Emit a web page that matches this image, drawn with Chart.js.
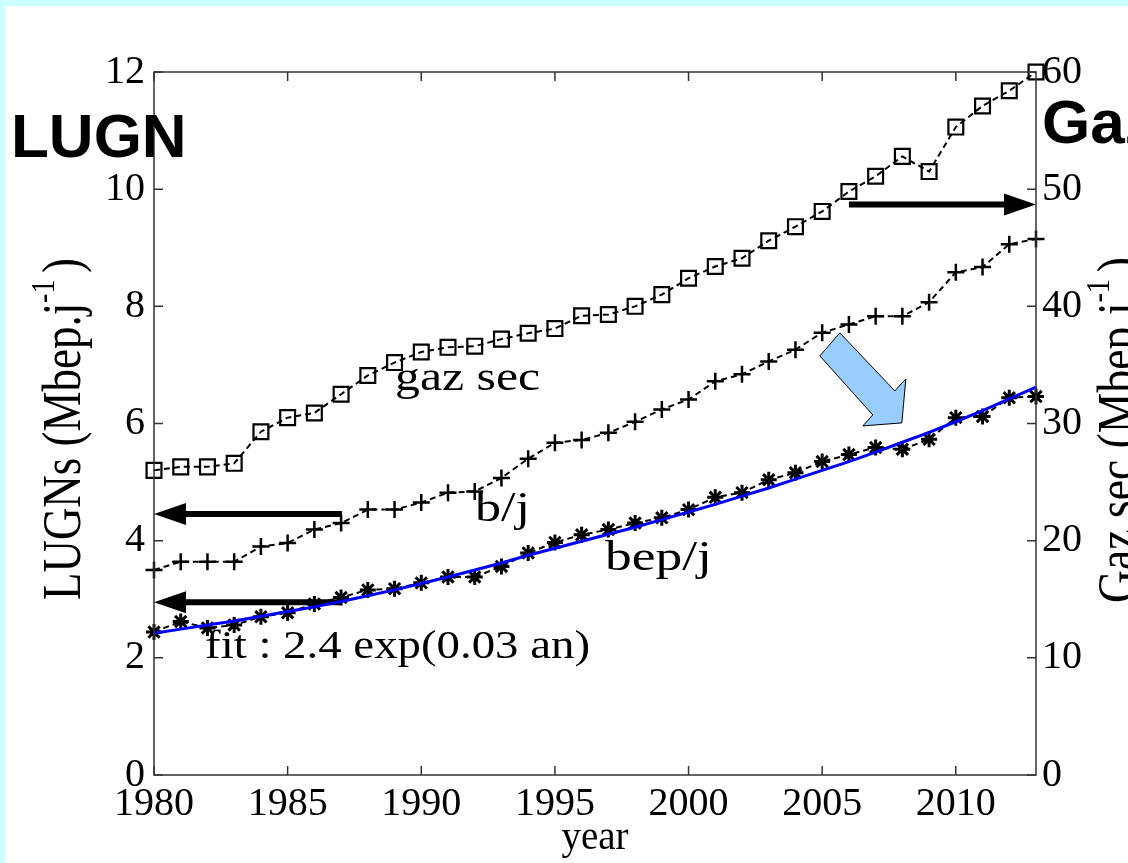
<!DOCTYPE html>
<html><head><meta charset="utf-8">
<script src="https://cdn.jsdelivr.net/npm/chart.js@4.4.0/dist/chart.umd.min.js"></script>
<style>html,body{margin:0;padding:0;background:#ffffff;overflow:hidden}canvas{display:block}</style>
</head><body><canvas id="c" width="1128" height="863"></canvas>
<script>
const years = [1980,1981,1982,1983,1984,1985,1986,1987,1988,1989,1990,1991,1992,1993,1994,1995,1996,1997,1998,1999,2000,2001,2002,2003,2004,2005,2006,2007,2008,2009,2010,2011,2012,2013];
// gaz sec (right axis, Mbep/j)
const gazSec = [26.0,26.3,26.3,26.6,29.3,30.5,30.9,32.5,34.1,35.2,36.1,36.5,36.6,37.2,37.7,38.1,39.2,39.3,40.0,41.0,42.4,43.4,44.1,45.6,46.8,48.1,49.8,51.1,52.8,51.5,55.3,57.1,58.4,60.0];
// b/j (left axis)
const bj = [3.50,3.64,3.64,3.64,3.90,3.96,4.19,4.30,4.53,4.53,4.65,4.82,4.84,5.07,5.40,5.67,5.72,5.84,6.03,6.24,6.41,6.72,6.84,7.06,7.26,7.55,7.69,7.83,7.83,8.07,8.58,8.67,9.06,9.15];
// bep/j (left axis)
const bepj = [2.44,2.62,2.51,2.56,2.70,2.77,2.92,3.03,3.16,3.18,3.28,3.38,3.38,3.56,3.79,3.97,4.10,4.19,4.30,4.39,4.53,4.74,4.82,5.04,5.16,5.35,5.47,5.59,5.56,5.73,6.10,6.12,6.44,6.46];
// fit curve (left axis)
const fitVals = [2.42,2.49,2.56,2.63,2.71,2.79,2.87,2.96,3.06,3.16,3.27,3.38,3.50,3.62,3.75,3.87,3.99,4.11,4.23,4.36,4.49,4.62,4.76,4.90,5.05,5.20,5.35,5.51,5.68,5.85,6.03,6.22,6.42,6.62];
const xTickVals = [1980,1985,1990,1995,2000,2005,2010];
const yLeftTicks = [0,2,4,6,8,10,12];
const yRightTicks = [0,10,20,30,40,50,60];

const SERIF = "'Liberation Serif','Times New Roman',serif";
const SANS = "'Liberation Sans',Arial,sans-serif";
const pts = arr => years.map((y,i)=>({x:y,y:arr[i]}));

function hArrow(ctx,x1,y,x2,lw,hl,hw){
  const d = Math.sign(x2-x1);
  ctx.save();
  ctx.strokeStyle='#000'; ctx.fillStyle='#000'; ctx.lineWidth=lw;
  ctx.beginPath(); ctx.moveTo(x1,y); ctx.lineTo(x2-d*hl,y); ctx.stroke();
  ctx.beginPath(); ctx.moveTo(x2,y); ctx.lineTo(x2-d*hl,y-hw); ctx.lineTo(x2-d*hl,y+hw); ctx.closePath(); ctx.fill();
  ctx.restore();
}
function stretchText(ctx,str,x,y,font,targetW){
  ctx.save(); ctx.font=font; ctx.fillStyle='#000'; ctx.textBaseline='alphabetic'; ctx.textAlign='left';
  const w=ctx.measureText(str).width;
  ctx.translate(x,y); ctx.scale(targetW/w,1); ctx.fillText(str,0,0); ctx.restore();
}
function rotTitle(ctx,px,py,main,sup,close,size,alongW,perp){
  ctx.save();
  ctx.translate(px,py); ctx.rotate(-Math.PI/2);
  const big = size+'px '+SERIF, small = Math.round(size*0.62)+'px '+SERIF;
  ctx.font=big; const w1=ctx.measureText(main).width; const w3=ctx.measureText(close).width;
  ctx.font=small; const w2=ctx.measureText(sup).width;
  const gap=size*0.15;
  const total=w1+w2+gap+w3;
  ctx.scale(alongW/total,perp);
  ctx.fillStyle='#000'; ctx.textBaseline='alphabetic'; ctx.textAlign='left';
  ctx.font=big; ctx.fillText(main,0,0);
  ctx.font=small; ctx.fillText(sup,w1,-size*0.48);
  ctx.font=big; ctx.fillText(close,w1+w2+gap,0);
  ctx.restore();
}

const deco = {
  id:'deco',
  beforeDraw(chart){
    const c=chart.ctx; c.save();
    c.fillStyle='#ffffff'; c.fillRect(0,0,chart.width,chart.height);
    c.fillStyle='#ccffff'; c.fillRect(0,0,chart.width,6); c.fillRect(0,0,6,chart.height);
    c.restore();
  },
  beforeDatasetsDraw(chart){
    const c=chart.ctx, xs=chart.scales.x, yl=chart.scales.y, yr=chart.scales.y2;
    hArrow(c, xs.getPixelForValue(1987.03), yl.getPixelForValue(4.455), xs.getPixelForValue(1980), 6, 32, 11);
    hArrow(c, xs.getPixelForValue(1987.0), yl.getPixelForValue(2.95), xs.getPixelForValue(1980), 6, 32, 11);
    hArrow(c, xs.getPixelForValue(2006.0), yr.getPixelForValue(48.7), xs.getPixelForValue(2013), 6, 32, 11);
  },
  afterDraw(chart){
    const c=chart.ctx, a=chart.chartArea, xs=chart.scales.x, yl=chart.scales.y, yr=chart.scales.y2;
    c.save();
    c.strokeStyle='#333'; c.lineWidth=1.5;
    c.strokeRect(a.left,a.top,a.right-a.left,a.bottom-a.top);
    c.beginPath();
    xTickVals.forEach(v=>{const x=xs.getPixelForValue(v); c.moveTo(x,a.bottom); c.lineTo(x,a.bottom-9); c.moveTo(x,a.top); c.lineTo(x,a.top+9);});
    yLeftTicks.forEach(v=>{const y=yl.getPixelForValue(v); c.moveTo(a.left,y); c.lineTo(a.left+9,y);});
    yRightTicks.forEach(v=>{const y=yr.getPixelForValue(v); c.moveTo(a.right,y); c.lineTo(a.right-9,y);});
    c.stroke();
    const tx=xs.getPixelForValue(2007.98), ty=yl.getPixelForValue(6.01);
    const poly=[[-82,-67],[-62,-90],[-7,-32],[4,-44],[0,0],[-39,3],[-29,-8]];
    c.beginPath(); poly.forEach((p,i)=>{ if(i) c.lineTo(tx+p[0],ty+p[1]); else c.moveTo(tx+p[0],ty+p[1]); }); c.closePath();
    c.fillStyle='#99ccff'; c.fill(); c.strokeStyle='#000'; c.lineWidth=1; c.stroke();
    c.restore();
    const f = '43px '+SERIF;
    stretchText(c,'gaz sec', xs.getPixelForValue(1989.02), yl.getPixelForValue(6.572), f, 145);
    stretchText(c,'b/j', xs.getPixelForValue(1992.01), yl.getPixelForValue(4.336), f, 55);
    stretchText(c,'bep/j', xs.getPixelForValue(1996.87), yl.getPixelForValue(3.499), f, 107);
    stretchText(c,'fit : 2.4 exp(0.03 an)', xs.getPixelForValue(1981.91), yl.getPixelForValue(1.997), '40px '+SERIF, 385);
    rotTitle(c, a.left-74, 600, 'LUGNs (Mbep.j', '-1', ')', 42, 342, 1.3);
    rotTitle(c, a.right+99, 603, 'Gaz sec (Mbep.j', '-1', ')', 42, 346, 1.3);
    c.save(); c.fillStyle='#000'; c.font='bold 62px '+SANS; c.textBaseline='alphabetic';
    c.fillText('LUGN', 11, 157);
    c.fillText('Gaz sec', a.right+6, 143);
    c.restore();
  }
};

const tickFont = {family:SERIF, size:40};
new Chart(document.getElementById('c'), {
  type:'line',
  data:{datasets:[
    {label:'fit', data:pts(fitVals), yAxisID:'y', borderColor:'#0000ff', borderWidth:3, pointRadius:0, tension:0, clip:false},
    {label:'bep/j', data:pts(bepj), yAxisID:'y', borderColor:'#000', borderWidth:2, borderDash:[6,4], pointStyle:'star', pointRadius:8, pointBorderWidth:3, pointBorderColor:'#000', pointBackgroundColor:'#000', clip:false},
    {label:'b/j', data:pts(bj), yAxisID:'y', borderColor:'#000', borderWidth:2, borderDash:[6,4], pointStyle:'cross', pointRadius:8.5, pointBorderWidth:2.5, pointBorderColor:'#000', clip:false},
    {label:'gaz sec', data:pts(gazSec), yAxisID:'y2', borderColor:'#000', borderWidth:2, borderDash:[6,4], pointStyle:'rect', pointRadius:10.5, pointBorderWidth:2.2, pointBorderColor:'#000', pointBackgroundColor:'rgba(0,0,0,0)', clip:false}
  ]},
  options:{
    responsive:false, animation:false, devicePixelRatio:1,
    layout:{padding:{top:72,left:0,right:0,bottom:0}},
    plugins:{legend:{display:false}, tooltip:{enabled:false}},
    events:[],
    scales:{
      x:{type:'linear', min:1980, max:2013,
        afterBuildTicks:s=>{s.ticks=xTickVals.map(v=>({value:v}));},
        afterFit:s=>{s.height=88;},
        grid:{display:false, drawTicks:false}, border:{display:false},
        ticks:{autoSkip:false, maxRotation:0, minRotation:0, padding:5, font:tickFont, color:'#000', callback:v=>String(v)},
        title:{display:true, text:'year', font:{family:SERIF,size:39}, color:'#000', padding:{top:0,bottom:1}}
      },
      y:{type:'linear', position:'left', min:0, max:12,
        afterBuildTicks:s=>{s.ticks=yLeftTicks.map(v=>({value:v}));},
        afterFit:s=>{s.width=154;},
        grid:{display:false, drawTicks:false}, border:{display:false},
        ticks:{padding:9, font:tickFont, color:'#000', callback:v=>String(v)}
      },
      y2:{type:'linear', position:'right', min:0, max:60,
        afterBuildTicks:s=>{s.ticks=yRightTicks.map(v=>({value:v}));},
        afterFit:s=>{s.width=92;},
        grid:{display:false, drawTicks:false}, border:{display:false},
        ticks:{padding:6, font:tickFont, color:'#000', callback:v=>String(v)}
      }
    }
  },
  plugins:[deco]
});
</script></body></html>
